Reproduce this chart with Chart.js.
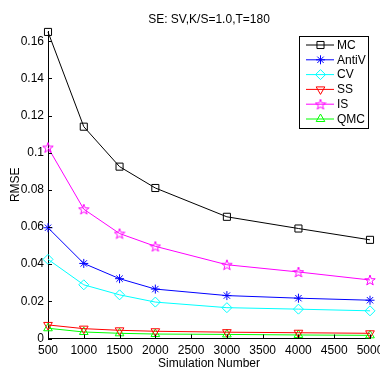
<!DOCTYPE html>
<html>
<head>
<meta charset="utf-8">
<script src="https://cdn.jsdelivr.net/npm/chart.js@4.4.1/dist/chart.umd.min.js"></script>
<style>
html, body { margin: 0; padding: 0; background: #fff; }
#rmse { display: block; }
</style>
</head>
<body>
<canvas id="rmse" width="380" height="373"></canvas>
<script>
// RMSE of each estimator against the number of simulations
var simNumbers = [500, 1000, 1500, 2000, 3000, 4000, 5000];
var mcRmse    = [0.165, 0.114, 0.0925, 0.081, 0.0655, 0.0592, 0.0531];
var antivRmse = [0.0596, 0.0404, 0.0322, 0.0266, 0.0231, 0.0217, 0.0206];
var cvRmse    = [0.0426, 0.0289, 0.0235, 0.0196, 0.0166, 0.0158, 0.0149];
var ssRmse    = [0.0073, 0.0053, 0.0044, 0.0039, 0.0034, 0.0031, 0.0028];
var isRmse    = [0.1028, 0.0696, 0.0565, 0.0496, 0.0397, 0.0358, 0.0315];
var qmcRmse   = [0.0055, 0.0035, 0.0028, 0.0024, 0.0022, 0.0019, 0.0017];

var xTickValues = [500, 1000, 1500, 2000, 2500, 3000, 3500, 4000, 4500, 5000];
var yTickValues = [0, 0.02, 0.04, 0.06, 0.08, 0.1, 0.12, 0.14, 0.16];
var yTickLabels = ['0', '0.02', '0.04', '0.06', '0.08', '0.1', '0.12', '0.14', '0.16'];

var chartTitle = 'SE: SV,K/S=1.0,T=180';
var fontFamily = '"Liberation Sans", Arial, sans-serif';

// MATLAB style open pentagram, used as an image point style
function pentagram(size, color) {
    var c = document.createElement('canvas');
    c.width = size;
    c.height = size;
    var g = c.getContext('2d');
    var cx = size / 2, cy = size / 2 + 0.5, r = size / 2 - 0.5, ri = r * 0.4;
    g.beginPath();
    for (var i = 0; i < 10; i++) {
        var a = -Math.PI / 2 + i * Math.PI / 5;
        var rr = i % 2 ? ri : r;
        g.lineTo(cx + rr * Math.cos(a), cy + rr * Math.sin(a));
    }
    g.closePath();
    g.strokeStyle = color;
    g.lineWidth = 1;
    g.stroke();
    return c;
}

var starImg = pentagram(12, '#ff00ff');

function series(label, data, color, style, radius, rotation) {
    return {
        label: label,
        data: data.map(function (v, i) { return {x: simNumbers[i], y: v}; }),
        borderColor: color,
        backgroundColor: 'rgba(0,0,0,0)',
        borderWidth: 1,
        pointStyle: style,
        pointRadius: radius,
        pointRotation: rotation || 0,
        pointBorderColor: color,
        pointBackgroundColor: 'rgba(0,0,0,0)',
        pointBorderWidth: 1,
        tension: 0,
        fill: false,
        clip: false
    };
}

var datasets = [
    series('MC', mcRmse, '#000000', 'rect', 5),
    series('AntiV', antivRmse, '#0000ff', 'star', 4.5),
    series('CV', cvRmse, '#00ffff', 'rectRot', 5),
    series('SS', ssRmse, '#ff0000', 'triangle', 5, 180),
    series('IS', isRmse, '#ff00ff', starImg, 6),
    series('QMC', qmcRmse, '#00ff00', 'triangle', 5)
];

// inward ticks, the title and the boxed legend inside the axes
var matlabFrame = {
    id: 'matlabFrame',
    afterDraw: function (chart) {
        var ctx = chart.ctx, area = chart.chartArea;
        var xs = chart.scales.x, ys = chart.scales.y;
        ctx.save();
        ctx.strokeStyle = '#000';
        ctx.lineWidth = 1;
        ctx.beginPath();
        xs.ticks.forEach(function (t) {
            var px = Math.round(xs.getPixelForValue(t.value)) + 0.5;
            ctx.moveTo(px, area.bottom);
            ctx.lineTo(px, area.bottom - 4);
        });
        ys.ticks.forEach(function (t) {
            var py = Math.round(ys.getPixelForValue(t.value)) + 0.5;
            ctx.moveTo(area.left, py);
            ctx.lineTo(area.left + 4, py);
        });
        ctx.stroke();

        ctx.fillStyle = '#000';
        ctx.font = '12px ' + fontFamily;
        ctx.textAlign = 'center';
        ctx.textBaseline = 'middle';
        ctx.fillText(chartTitle, (area.left + area.right) / 2, area.top - 11);

        // legend
        var bx = 299.5, by = 36.5, bw = 69, bh = 92;
        ctx.fillStyle = '#fff';
        ctx.fillRect(bx, by, bw, bh);
        ctx.strokeRect(bx, by, bw, bh);
        ctx.textAlign = 'left';
        chart.data.datasets.forEach(function (ds, i) {
            var ly = 45 + i * 14.8;
            ctx.strokeStyle = ds.borderColor;
            ctx.beginPath();
            ctx.moveTo(306, ly);
            ctx.lineTo(334, ly);
            ctx.stroke();
            ctx.fillStyle = 'rgba(0,0,0,0)';
            Chart.helpers.drawPoint(ctx, {
                pointStyle: ds.pointStyle,
                rotation: ds.pointRotation,
                radius: ds.pointRadius,
                borderWidth: 1
            }, 320.5, ly);
            ctx.fillStyle = '#000';
            ctx.fillText(ds.label, 337, ly + 0.5);
        });
        ctx.restore();
    }
};

new Chart(document.getElementById('rmse'), {
    type: 'line',
    data: {datasets: datasets},
    options: {
        responsive: false,
        animation: false,
        devicePixelRatio: 1,
        layout: {padding: {top: 31, right: 10, left: 0, bottom: 0}},
        plugins: {
            legend: {display: false},
            tooltip: {enabled: false}
        },
        scales: {
            x: {
                type: 'linear',
                min: 500,
                max: 5000,
                afterBuildTicks: function (scale) {
                    scale.ticks = xTickValues.map(function (v) { return {value: v}; });
                },
                afterFit: function (scale) {
                    scale.height = 34.5;
                    scale.paddingLeft = 0;
                    scale.paddingRight = 0;
                },
                grid: {drawOnChartArea: false, drawTicks: false},
                border: {display: true, color: '#000', width: 1},
                ticks: {
                    color: '#000',
                    font: {family: fontFamily, size: 12},
                    padding: 5,
                    maxRotation: 0,
                    autoSkip: false,
                    callback: function (v) { return String(v); }
                },
                title: {
                    display: true,
                    text: 'Simulation Number',
                    color: '#000',
                    font: {family: fontFamily, size: 12},
                    padding: {top: 0, bottom: 2}
                }
            },
            y: {
                min: 0,
                max: 0.1655,
                afterBuildTicks: function (scale) {
                    scale.ticks = yTickValues.map(function (v) { return {value: v}; });
                },
                afterFit: function (scale) {
                    scale.width = 48;
                    scale.paddingTop = 0;
                    scale.paddingBottom = 0;
                },
                grid: {drawOnChartArea: false, drawTicks: false},
                border: {display: true, color: '#000', width: 1},
                ticks: {
                    color: '#000',
                    font: {family: fontFamily, size: 12},
                    padding: 4,
                    autoSkip: false,
                    callback: function (v, i) { return yTickLabels[i]; }
                },
                title: {
                    display: true,
                    text: 'RMSE',
                    color: '#000',
                    font: {family: fontFamily, size: 12},
                    padding: {top: 8, bottom: 0}
                }
            }
        }
    },
    plugins: [matlabFrame]
});
</script>
</body>
</html>
